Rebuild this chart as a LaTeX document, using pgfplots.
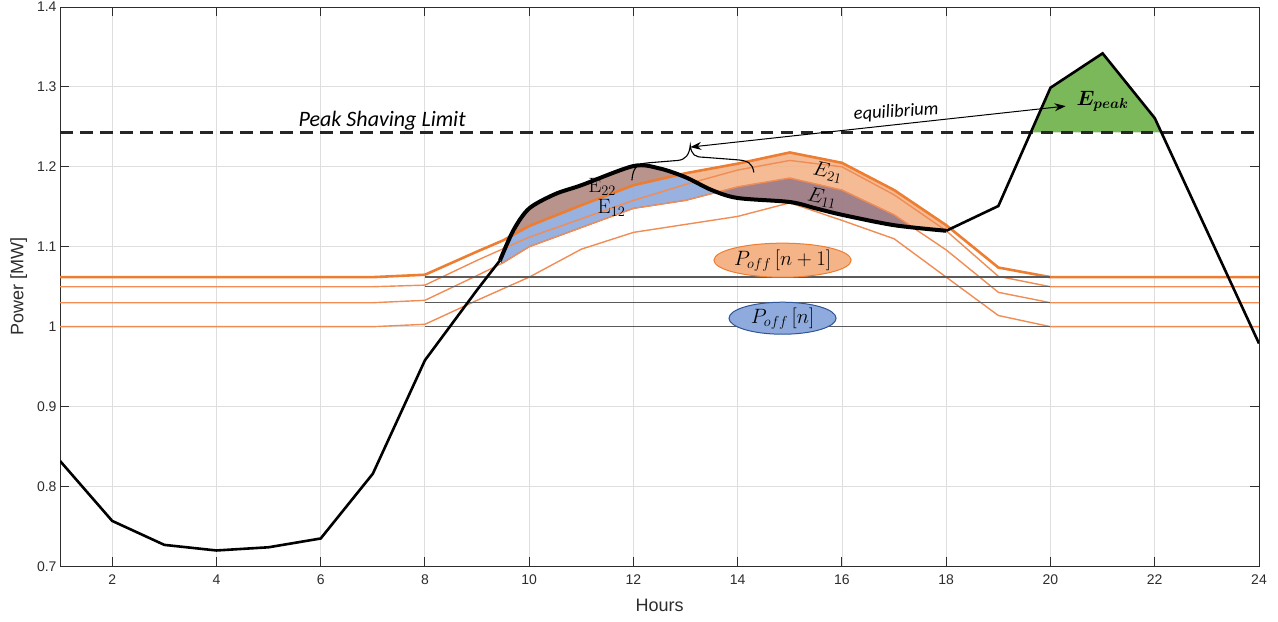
\documentclass[border=0pt]{standalone}
\usepackage[no-math]{fontspec}
\setmainfont{Liberation Sans}
\newfontfamily\calibri{Carlito}
\usepackage{bm}
\usepackage{pgfplots}
\pgfplotsset{compat=1.18}
\usepgfplotslibrary{fillbetween}
\usetikzlibrary{shapes.geometric,arrows.meta}
\definecolor{mygrid}{RGB}{222,222,222}
\definecolor{axcol}{RGB}{45,45,45}
\definecolor{orA}{RGB}{237,125,49}
\definecolor{orL}{RGB}{241,140,85}
\definecolor{gline}{RGB}{90,90,90}
\definecolor{blueF}{RGB}{143,170,220}
\definecolor{blueE}{RGB}{47,85,151}
\definecolor{orF}{RGB}{244,180,136}
\definecolor{brownF}{RGB}{188,146,134}
\definecolor{mauveF}{RGB}{152,124,138}
\definecolor{greenF}{RGB}{122,184,90}
\begin{document}
\begin{tikzpicture}
\begin{axis}[
  scale only axis, width=1198pt, height=559pt,
  xmin=1, xmax=24, ymin=0.7, ymax=1.4,
  xtick={2,4,...,24}, ytick={0.7,0.8,0.9,1,1.1,1.2,1.3,1.4},
  xtick pos=both, ytick pos=both, tick align=inside,
  major tick length=9pt,
  grid=major, major grid style={mygrid, line width=0.9pt},
  axis line style={axcol, line width=1pt},
  tick style={axcol, line width=1pt},
  /pgf/number format/assume math mode=true,
  ticklabel style={font=\fontsize{14}{16}\selectfont, text=axcol},
  xticklabel style={yshift=-5pt},
  xlabel={Hours}, ylabel={Power [MW]},
  label style={font=\fontsize{18}{20}\selectfont, text=axcol},
  xlabel style={yshift=-7pt},
  ylabel style={yshift=3pt},
]
% offset lines
\addplot[orL, line width=1.4pt, name path=D] coordinates {(1,1.000)(7,1.000)(8,1.003)(9,1.033)(10,1.062)(11,1.097)(12,1.118)(13,1.128)(14,1.138)(15,1.155)(16,1.133)(17,1.110)(18,1.062)(19,1.014)(20,1.000)(24,1.000)};
\addplot[orL, line width=1.4pt, name path=C] coordinates {(1,1.030)(7,1.030)(8,1.033)(9,1.064)(9.5,1.080)(10,1.100)(11,1.124)(12,1.148)(13,1.158)(14,1.175)(15,1.186)(16,1.171)(17,1.140)(18,1.096)(19,1.043)(20,1.030)(24,1.030)};
\addplot[orL, line width=1.4pt, name path=B] coordinates {(1,1.050)(7,1.050)(8,1.052)(9,1.083)(10,1.112)(11,1.135)(12,1.158)(13,1.178)(14,1.196)(15,1.208)(16,1.200)(17,1.165)(18,1.120)(19,1.063)(20,1.050)(24,1.050)};
\addplot[orA, line width=2.6pt, name path=A] coordinates {(1,1.062)(7,1.062)(8,1.065)(9,1.094)(9.5,1.108)(10,1.126)(11,1.152)(12,1.177)(13,1.192)(14,1.204)(15,1.218)(16,1.205)(17,1.171)(18,1.127)(19,1.074)(20,1.062)(24,1.062)};
% grey reference levels
\addplot[gline, line width=1.4pt] coordinates {(8,1.062)(20,1.062)};
\addplot[gline, line width=1.4pt] coordinates {(8,1.050)(20,1.050)};
\addplot[gline, line width=1.4pt] coordinates {(8,1.030)(20,1.030)};
\addplot[gline, line width=1.4pt] coordinates {(8,1.000)(20,1.000)};
% load curve path (smooth part)
\addplot[draw=none, smooth, name path=blk] coordinates {(9.44,1.083)(9.7,1.121)(10,1.148)(10.5,1.166)(11,1.177)(12,1.201)(12.5,1.198)(13,1.187)(13.5,1.171)(14,1.161)(15,1.156)(15.5,1.148)(16,1.140)(17,1.127)(18,1.120)};
% energy areas
\addplot[fill=blueF, fill opacity=0.92, draw=blueE, line width=0.8pt] fill between[of=blk and C, soft clip={domain=9.47:13.62}];
\addplot[fill=brownF, fill opacity=0.92, draw=orA, line width=0.8pt] fill between[of=blk and A, soft clip={domain=9.75:12.85}];
\addplot[fill=orF, fill opacity=0.9, draw=orA, line width=0.6pt] fill between[of=A and blk, soft clip={domain=12.85:18}];
\addplot[fill=mauveF, fill opacity=0.9, draw=mauveF, line width=0.6pt] fill between[of=C and blk, soft clip={domain=13.62:17.35}];
% peak area
\addplot[fill=greenF, draw=none] coordinates {(19.64,1.243)(20,1.299)(21,1.342)(22,1.261)(22.13,1.243)} -- cycle;
% peak shaving limit
\addplot[black!85, line width=2.2pt, dash pattern=on 12.5pt off 7.5pt] coordinates {(1,1.243)(24,1.243)};
% load curve
\addplot[black, line width=2.6pt] coordinates {(1,0.832)(2,0.757)(3,0.727)(4,0.720)(5,0.724)(6,0.735)(7,0.816)(8,0.958)(9,1.046)(9.44,1.083)};
\addplot[black, line width=4pt, smooth] coordinates {(9.44,1.083)(9.7,1.121)(10,1.148)(10.5,1.166)(11,1.177)(12,1.201)(12.5,1.198)(13,1.187)(13.5,1.171)(14,1.161)(15,1.156)(15.5,1.148)(16,1.140)(17,1.127)(18,1.120)};
\addplot[black, line width=2.6pt] coordinates {(18,1.120)(19,1.151)(20,1.299)(21,1.342)(22,1.261)(23,1.120)(24,0.979)};
% annotations
\node[font=\calibri\itshape\fontsize{22}{24}\selectfont] at (axis cs:7.18,1.2572) {Peak Shaving Limit};
\draw[{Stealth[length=11pt,width=8pt]}-{Stealth[length=11pt,width=8pt]}, line width=1pt] (axis cs:13.09,1.2247) -- (axis cs:20.29,1.276);
\node[font=\calibri\itshape\fontsize{18.5}{20}\selectfont, rotate=4] at (axis cs:17.04,1.2685) {equilibrium};
\draw[line width=1.1pt] (axis cs:11.97,1.183) .. controls (axis cs:11.99,1.198) and (axis cs:12.05,1.204) .. (axis cs:12.28,1.205) -- (axis cs:12.85,1.208) .. controls (axis cs:13.0,1.209) and (axis cs:13.07,1.215) .. (axis cs:13.09,1.227) .. controls (axis cs:13.11,1.215) and (axis cs:13.18,1.212) .. (axis cs:13.35,1.212) -- (axis cs:13.95,1.209) .. controls (axis cs:14.2,1.208) and (axis cs:14.28,1.205) .. (axis cs:14.31,1.193);
\node[font=\fontsize{21}{22}\selectfont, inner sep=0pt] at (axis cs:11.40,1.175) {$\mathrm{E}_{22}$};
\node[font=\fontsize{21}{22}\selectfont, inner sep=0pt] at (axis cs:11.58,1.149) {$\mathrm{E}_{12}$};
\node[font=\fontsize{21}{22}\selectfont, rotate=-12, inner sep=0pt] at (axis cs:15.73,1.193) {$E_{21}$};
\node[font=\fontsize{21}{22}\selectfont, rotate=-12, inner sep=0pt] at (axis cs:15.62,1.161) {$E_{11}$};
\node[font=\fontsize{20}{22}\selectfont] at (axis cs:21.0,1.282) {$\bm{E_{peak}}$};
\node[ellipse, draw=orA, fill=orF, line width=1pt, inner sep=0pt, minimum width=130pt, minimum height=34pt, font=\fontsize{21}{22}\selectfont] at (axis cs:14.86,1.0832) {$P_{off}\,[n+1]$};
\node[ellipse, draw=blueE, fill=blueF, line width=1pt, inner sep=0pt, minimum width=107pt, minimum height=32pt, font=\fontsize{21}{22}\selectfont] at (axis cs:14.86,1.0106) {$P_{off}\,[n]$};
\end{axis}
\pgfresetboundingbox
\path[use as bounding box] ([xshift=-60pt,yshift=-55pt]current axis.south west) rectangle ([xshift=19pt,yshift=7pt]current axis.north east);
\end{tikzpicture}
\end{document}
